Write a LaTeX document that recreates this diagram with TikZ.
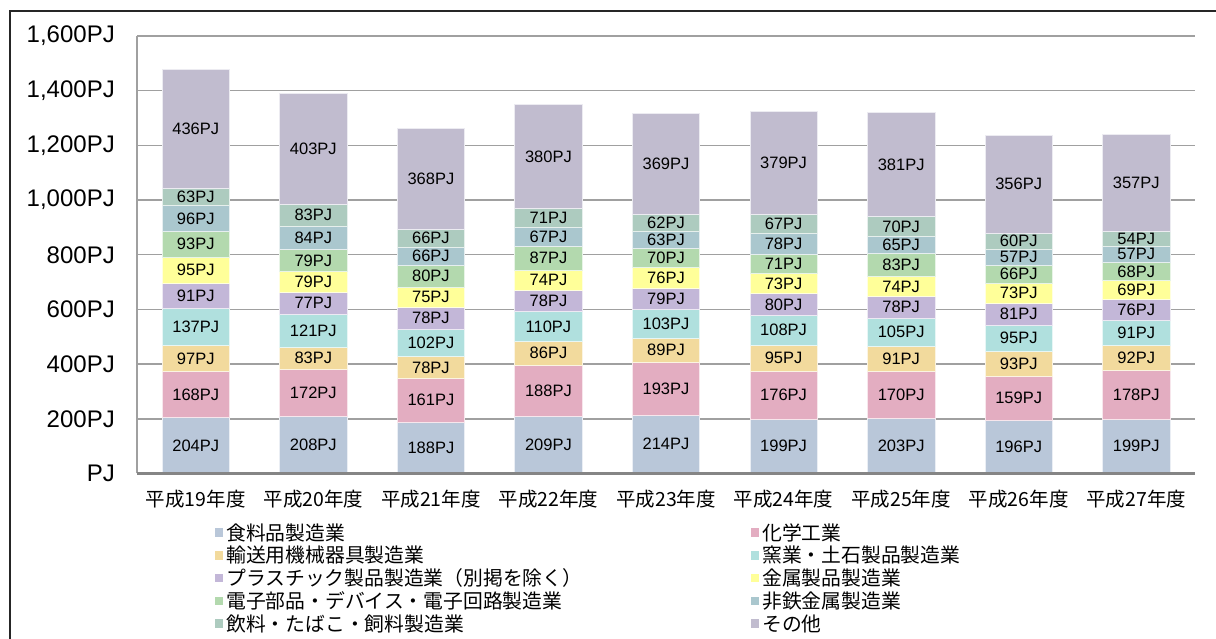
\documentclass[tikz,border=0pt]{standalone}
\usepackage{fontspec}
\setmainfont{Liberation Sans}
\newfontfamily\jpfont{Noto Sans CJK JP}
\definecolor{seg1}{HTML}{B9C7D9}
\definecolor{seg2}{HTML}{E3ADC1}
\definecolor{seg3}{HTML}{F2DA9D}
\definecolor{seg4}{HTML}{B0E0DE}
\definecolor{seg5}{HTML}{C3B7D8}
\definecolor{seg6}{HTML}{FFFF99}
\definecolor{seg7}{HTML}{B3D9AE}
\definecolor{seg8}{HTML}{AAC7CE}
\definecolor{seg9}{HTML}{ADCBBF}
\definecolor{seg10}{HTML}{C1BCCF}
\definecolor{gridGrey}{HTML}{A0A0A0}
\definecolor{axisGrey}{HTML}{858585}

\begin{document}
\begin{tikzpicture}[x=1pt,y=1pt]
    \pgfmathsetmacro{\s}{0.2734}
    \pgfmathsetmacro{\yz}{165.5}
    \pgfmathsetmacro{\cw}{117.56}
    \tikzset{
        gridLine/.style={draw=gridGrey, line width=1.4pt},
        barLabel/.style={font=\fontsize{16.5}{18}\selectfont, inner sep=0pt},
        yLabel/.style={font=\fontsize{24}{28}\selectfont, anchor=east, inner sep=0pt},
        xLabel/.style={font=\jpfont\fontsize{19.5}{22}\selectfont, inner sep=0pt},
        keyLabel/.style={font=\jpfont\fontsize{19.8}{22}\selectfont, anchor=west, inner sep=0pt},
        keyBox/.style={minimum size=8.5pt, inner sep=0pt}
    }
    \useasboundingbox (0,0) rectangle (1216,639);
    % frame
    \draw[line width=1.5pt, black!85] (10,0) -- (10,628) -- (1216,628);
    % grid and y axis
    \foreach \v/\lab in {0/PJ,200/200PJ,400/400PJ,600/600PJ,800/800PJ,1000/{1,000PJ},1200/{1,200PJ},1400/{1,400PJ},1600/{1,600PJ}}{
        \draw[gridLine] (137,\yz+\v*\s) -- (1195,\yz+\v*\s);
        \node[yLabel] (tick\v) at (115,\yz+\v*\s) {\lab};
    }
    \draw[gridLine] (137,\yz) -- (137,\yz+1600*\s);
    % bars
    \foreach \vals [count=\i] in {%
        {204,168,97,137,91,95,93,96,63,436},%
        {208,172,83,121,77,79,79,84,83,403},%
        {188,161,78,102,78,75,80,66,66,368},%
        {209,188,86,110,78,74,87,67,71,380},%
        {214,193,89,103,79,76,70,63,62,369},%
        {199,176,95,108,80,73,71,78,67,379},%
        {203,170,91,105,78,74,83,65,70,381},%
        {196,159,93,95,81,73,66,57,60,356},%
        {199,178,92,91,76,69,68,57,54,357}%
    }{
        \pgfmathsetmacro{\cx}{137+(\i-0.5)*\cw}
        \pgfmathtruncatemacro{\yr}{18+\i}
        \node[xLabel] (year\i) at (\cx,140) {平成\yr 年度};
        \xdef\lowv{0}
        \foreach \v [count=\j] in \vals {
            \pgfmathsetmacro{\highv}{\lowv+\v}
            \filldraw[fill=seg\j, draw=white!70!seg\j, line width=0.6pt] (\cx-33.7,\yz+\lowv*\s) rectangle (\cx+33.7,\yz+\highv*\s);
            \node[barLabel] (val\i-\j) at (\cx,{\yz+(\lowv+\highv)/2*\s}) {\v PJ};
            \xdef\lowv{\highv}
        }
    }
    \draw[draw=axisGrey, line width=2.4pt] (137,\yz) -- (1195,\yz);
    % legend
    \foreach \k/\name [count=\r] in {1/食料品製造業,3/輸送用機械器具製造業,5/プラスチック製品製造業（別掲を除く）,7/電子部品・デバイス・電子回路製造業,9/飲料・たばこ・飼料製造業}{
        \node[keyBox, fill=seg\k] (box\k) at (219,129-\r*22.7) {};
        \node[keyLabel] (key\k) at (226,129-\r*22.7) {\name};
    }
    \foreach \k/\name [count=\r] in {2/化学工業,4/窯業・土石製品製造業,6/金属製品製造業,8/非鉄金属製造業,10/その他}{
        \node[keyBox, fill=seg\k] (box\k) at (755,129-\r*22.7) {};
        \node[keyLabel] (key\k) at (762,129-\r*22.7) {\name};
    }
\end{tikzpicture}
\end{document}
